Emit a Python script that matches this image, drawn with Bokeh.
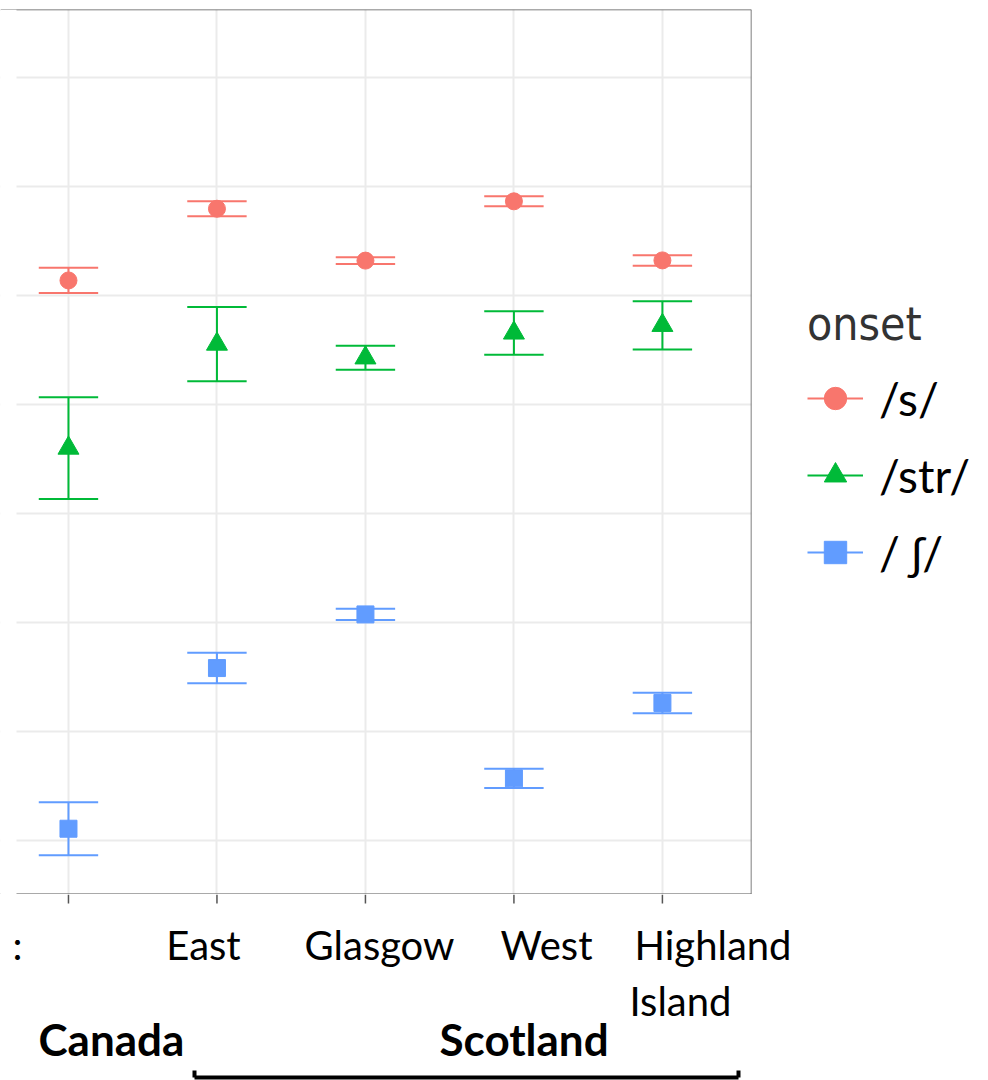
from bokeh.plotting import figure
from bokeh.models import (FixedTicker, Span, Label, Arrow, Legend, LegendItem,
                          Range1d, ColumnDataSource, BoxAnnotation)
from bokeh.layouts import column
from bokeh.embed import file_html
from bokeh.resources import INLINE

# ---- data -------------------------------------------------------------
regions = ["Canada", "East", "Glasgow", "West", "Highland\nIsland"]
groups = ["Canada", "Scotland"]
onsets = ["/s/", "/str/", "/ ʃ/"]

s_mean = [5069, 5398, 5160, 5432, 5161]
s_err = [58, 34, 16, 23, 24]

str_mean = [4300, 4777, 4714, 4828, 4863]
str_err = [233, 170, 55, 100, 111]

sh_mean = [2554, 3291, 3537, 2785, 3131]
sh_err = [122, 70, 26, 44, 47]

grid_values = [2500, 3000, 3500, 4000, 4500, 5000, 5500, 6000]

colors = ["#F8766D", "#00BA38", "#619CFF"]
markers = ["circle", "triangle", "square"]
marker_sizes = [17, 21, 17]

# ---- geometry of the panel ---------------------------------------------
Y0, Y1 = 2252.3, 6311.9
X0, X1 = 0.65, 5.6          # data span of the visible panel (px 16 .. 751)
PANEL_LEFT, PANEL_W, FRAME_H, TOP = 16, 735, 885, 9
BORDER = "#555555"


def ax(px):
    """canvas pixel column -> x data value"""
    return X0 + (px - PANEL_LEFT) * (X1 - X0) / PANEL_W


FRAME_W = PANEL_LEFT + PANEL_W
p = figure(output_backend="svg", toolbar_location=None,
           frame_width=FRAME_W, frame_height=FRAME_H,
           min_border_left=0, min_border_right=988 - FRAME_W,
           min_border_top=TOP, min_border_bottom=0,
           x_range=Range1d(ax(0), X1), y_range=Range1d(Y0, Y1))
p.outline_line_color = None
p.xaxis.visible = False
p.yaxis.visible = False

xs = list(range(1, len(regions) + 1))
p.xgrid.ticker = FixedTicker(ticks=xs)
p.ygrid.ticker = FixedTicker(ticks=grid_values)
for g in (p.xgrid, p.ygrid):
    g.grid_line_color = "#EBEBEB"
    g.grid_line_width = 2

# panel border (top, right, bottom)
p.add_layout(Span(location=Y1, dimension="width", line_color=BORDER, line_width=1.5))
p.add_layout(Span(location=X1, dimension="height", line_color=BORDER, line_width=1.5))
p.add_layout(Span(location=Y0, dimension="width", line_color=BORDER, line_width=2))
# blank margin at the far left
p.add_layout(BoxAnnotation(left=ax(0), right=ax(PANEL_LEFT), fill_color="white",
                           fill_alpha=1, line_alpha=0))

# ---- error bars and points -------------------------------------------
cap = 0.2
legend_items = []
for means, errs, col, mk, sz, name in zip(
        [s_mean, str_mean, sh_mean], [s_err, str_err, sh_err],
        colors, markers, marker_sizes, onsets):
    lo = [m - e for m, e in zip(means, errs)]
    hi = [m + e for m, e in zip(means, errs)]
    src = ColumnDataSource(dict(x=xs, y=means, lo=lo, hi=hi,
                                xl=[x - cap for x in xs], xr=[x + cap for x in xs]))
    stem = p.segment(x0="x", y0="lo", x1="x", y1="hi", source=src,
                     line_color=col, line_width=2)
    p.segment(x0="xl", y0="hi", x1="xr", y1="hi", source=src,
              line_color=col, line_width=2)
    p.segment(x0="xl", y0="lo", x1="xr", y1="lo", source=src,
              line_color=col, line_width=2)
    pts = p.scatter(x="x", y="y", source=src, marker=mk, size=sz,
                    fill_color=col, line_color=col)
    legend_items.append(LegendItem(label=name, renderers=[stem, pts]))

legend = Legend(items=legend_items, location=(56, 311),
                title="onset",
                title_text_font="DejaVu Sans Condensed, Liberation Sans Narrow, sans-serif",
                title_text_font_size="46px", title_text_color="#333333",
                title_text_font_style="normal", title_standoff=16,
                label_text_font="Lato", label_text_font_size="46px",
                label_text_color="black", label_standoff=16,
                glyph_width=56, glyph_height=62, spacing=15,
                padding=0, margin=0,
                border_line_color=None, background_fill_alpha=0)
p.add_layout(legend, "right")

# ---- strip below the panel: ticks, region labels, country groups ------
STRIP_TOP = TOP + FRAME_H
q = figure(output_backend="svg", toolbar_location=None,
           frame_width=988, frame_height=1080 - STRIP_TOP,
           min_border=0, x_range=Range1d(ax(0), ax(988)),
           y_range=Range1d(1080, STRIP_TOP))
q.outline_line_color = None
q.axis.visible = False
q.grid.visible = False

# axis ticks at each region
q.segment(x0=xs, y0=[STRIP_TOP] * len(xs), x1=xs, y1=[STRIP_TOP + 9] * len(xs),
          line_color=BORDER, line_width=1.5)

SHIFT = 16  # Label baseline offset in this renderer
tick_font = dict(text_font="Lato", text_font_size="40px", text_color="black",
                 text_baseline="alphabetic")
label_spots = [(17, "center"), (203, "center"), (379, "center"),
               (546, "center"), (634, "left")]
for i, (name, (px, align)) in enumerate(zip(regions, label_spots)):
    txt = ":" if i == 0 else name
    lines = txt.split("\n")
    q.add_layout(Label(x=ax(px), y=960 - SHIFT, text=lines[0],
                       text_align=align, **tick_font))
    if len(lines) > 1:
        q.add_layout(Label(x=ax(px - 5), y=1016 - SHIFT, text=lines[1],
                           text_align=align, **tick_font))

group_font = dict(text_font="Lato", text_font_size="44px", text_font_style="bold",
                  text_color="black", text_baseline="alphabetic", text_align="left")
for name, px in zip(groups, [38, 439]):
    q.add_layout(Label(x=ax(px), y=1054 - SHIFT, text=name, **group_font))

# bracket under the Scotland regions
for (xa, ya, xb, yb) in [(194, 1077, 738, 1077), (194, 1077, 194, 1070),
                         (738, 1077, 738, 1070)]:
    q.add_layout(Arrow(end=None, x_start=ax(xa), y_start=ya,
                       x_end=ax(xb), y_end=yb,
                       line_color="black", line_width=4))

open("out.html", "w").write(file_html(column(p, q, spacing=0), INLINE))
